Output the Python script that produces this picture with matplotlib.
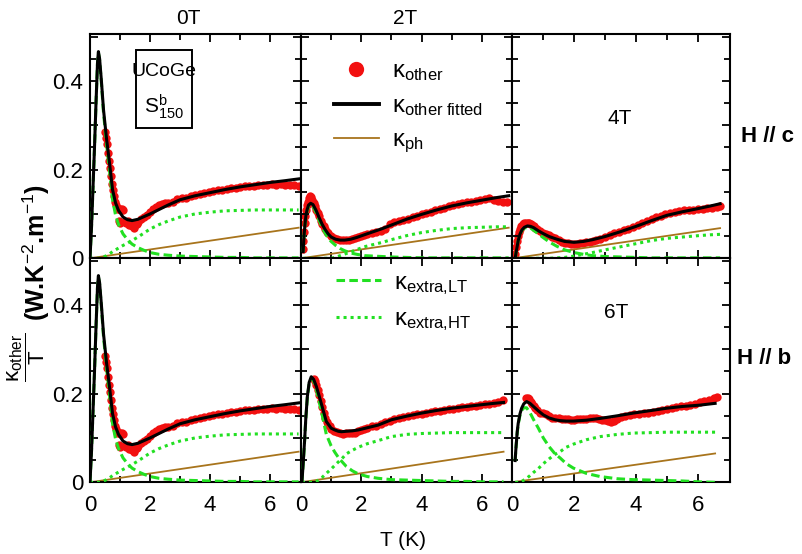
import matplotlib
matplotlib.use("Agg")
import matplotlib.pyplot as plt
from matplotlib.lines import Line2D
from matplotlib.patches import Rectangle

plt.rcParams["font.family"] = ["Liberation Sans", "DejaVu Sans"]
plt.rcParams["mathtext.fontset"] = "custom"
plt.rcParams["mathtext.rm"] = "Liberation Sans"
plt.rcParams["mathtext.it"] = "Liberation Sans:italic"
plt.rcParams["mathtext.bf"] = "Liberation Sans:bold"

RED = "#f21010"
GREEN = "#22e022"
BROWN = "#a8741c"
DASH = (0, (2.8, 1.4))
DOT = (0, (1.0, 1.3))

# ---- 0T (same data in both rows) ----
T_0 = [0, 0.05, 0.1, 0.15, 0.2, 0.25, 0.28, 0.32, 0.38, 0.45, 0.55, 0.65, 0.75, 0.85, 0.95,
       1.1, 1.25, 1.4, 1.6, 1.8, 2.0, 2.3, 2.6, 3.0, 3.5, 4.0, 4.5, 5.0, 5.5, 6.0, 6.5, 6.95]
fit_0 = [0, 0.07, 0.16, 0.25, 0.35, 0.44, 0.466, 0.45, 0.40, 0.335, 0.27, 0.215, 0.155, 0.125,
         0.108, 0.093, 0.087, 0.085, 0.088, 0.094, 0.10, 0.11, 0.12, 0.132, 0.141, 0.148, 0.155,
         0.161, 0.166, 0.171, 0.175, 0.179]
lt_0 = [0, 0.07, 0.16, 0.25, 0.35, 0.44, 0.463, 0.447, 0.395, 0.328, 0.258, 0.198, 0.133, 0.098,
        0.076, 0.055, 0.042, 0.032, 0.024, 0.018, 0.013, 0.009, 0.007, 0.005, 0.004, 0.003, 0.002,
        0.002, 0.001, 0.001, 0.001, 0.001]
ht_0 = [0, 0, 0, 0, 0, 0, 0, 0, 0.001, 0.003, 0.006, 0.010, 0.015, 0.019, 0.023, 0.029, 0.034,
        0.040, 0.048, 0.057, 0.066, 0.076, 0.084, 0.093, 0.100, 0.104, 0.107, 0.108, 0.109, 0.109,
        0.109, 0.109]
ph_T_0 = [0, 6.95]
ph_0 = [0, 0.069]
data_T_0 = [0.5, 0.53, 0.56, 0.6, 0.63, 0.66, 0.7, 0.73, 0.76, 0.8, 0.83, 0.86, 0.9, 0.93, 0.96,
            1.0, 1.03, 1.06, 1.1, 0.95, 1.0, 1.15, 1.2, 1.25, 1.3, 1.35, 1.4, 1.45, 1.5, 1.55, 1.6,
            1.7, 1.8, 1.9, 2.0, 2.1, 2.2, 2.3, 2.4, 2.5, 2.6, 2.75, 2.9, 3.05, 3.2, 3.35, 3.5, 3.65,
            3.8, 3.95, 4.1, 4.25, 4.4, 4.55, 4.7, 4.85, 5.0, 5.15, 5.3, 5.45, 5.6, 5.75, 5.9, 6.05,
            6.2, 6.35, 6.5, 6.65, 6.8, 6.95]
data_0 = [0.285, 0.272, 0.258, 0.238, 0.22, 0.203, 0.185, 0.168, 0.153, 0.14, 0.128, 0.12, 0.113,
          0.112, 0.111, 0.112, 0.11, 0.111, 0.108, 0.085, 0.08, 0.082, 0.079, 0.083, 0.076, 0.08,
          0.072, 0.069, 0.074, 0.078, 0.082, 0.088, 0.093, 0.098, 0.104, 0.112, 0.116, 0.12, 0.122,
          0.124, 0.125, 0.128, 0.133, 0.136, 0.137, 0.14, 0.143, 0.146, 0.148, 0.15, 0.152, 0.153,
          0.155, 0.156, 0.158, 0.159, 0.16, 0.162, 0.163, 0.164, 0.165, 0.166, 0.165, 0.167, 0.166,
          0.167, 0.166, 0.165, 0.165, 0.164]

# ---- 2T, H // c ----
T_2c = [0.07, 0.1, 0.13, 0.16, 0.2, 0.25, 0.32, 0.4, 0.5, 0.6, 0.7, 0.8, 0.9, 1.0, 1.15, 1.3,
        1.45, 1.65, 1.85, 2.1, 2.4, 2.7, 3.0, 3.5, 4.0, 4.5, 5.0, 5.5, 6.0, 6.5, 6.89]
fit_2c = [0.015, 0.05, 0.075, 0.095, 0.109, 0.12, 0.124, 0.121, 0.108, 0.092, 0.077, 0.065, 0.055,
          0.048, 0.043, 0.041, 0.041, 0.043, 0.047, 0.053, 0.06, 0.067, 0.075, 0.088, 0.099,
          0.109, 0.118, 0.125, 0.131, 0.137, 0.141]
lt_2c = [0.014, 0.049, 0.074, 0.093, 0.107, 0.117, 0.121, 0.117, 0.103, 0.086, 0.07, 0.057, 0.046,
         0.038, 0.029, 0.022, 0.017, 0.012, 0.009, 0.006, 0.005, 0.004, 0.003, 0.002, 0.001, 0.001,
         0.001, 0.001, 0.001, 0.001, 0.001]
ht_2c = [0, 0, 0, 0, 0, 0, 0, 0, 0, 0, 0, 0, 0, 0, 0.0025, 0.006, 0.0095, 0.0145, 0.0195, 0.026,
         0.031, 0.036, 0.042, 0.051, 0.058, 0.063, 0.067, 0.069, 0.07, 0.071, 0.071]
ph_T_2c = [0, 6.89]
ph_2c = [0, 0.069]
data_T_2c = [0.05, 0.08, 0.1, 0.12, 0.14, 0.17, 0.2, 0.23, 0.26, 0.29, 0.32, 0.35, 0.38, 0.42,
             0.45, 0.5, 0.55, 0.6, 0.65, 0.7, 0.75, 0.8, 0.85, 0.9, 1.0, 1.1, 1.2, 1.3, 1.4, 1.5,
             1.6, 1.7, 1.8, 1.9, 2.0, 2.1, 2.2, 2.35, 2.5, 2.65, 2.8, 2.95, 3.1, 3.25, 3.4, 3.55,
             3.7, 3.85, 4.0, 4.15, 4.3, 4.45, 4.6, 4.75, 4.9, 5.05, 5.2, 5.35, 5.5, 5.65, 5.8,
             5.95, 6.1, 6.25, 6.4, 6.55, 6.7, 6.85]
data_2c = [0.02, 0.04, 0.06, 0.08, 0.095, 0.11, 0.12, 0.128, 0.135, 0.14, 0.138, 0.132, 0.13,
           0.125, 0.118, 0.11, 0.102, 0.095, 0.085, 0.078, 0.072, 0.066, 0.06, 0.056, 0.05, 0.046,
           0.043, 0.042, 0.041, 0.041, 0.042, 0.044, 0.046, 0.048, 0.05, 0.052, 0.055, 0.057, 0.06,
           0.062, 0.066, 0.078, 0.081, 0.083, 0.086, 0.089, 0.092, 0.095, 0.099, 0.102, 0.105,
           0.108, 0.111, 0.114, 0.117, 0.12, 0.122, 0.124, 0.126, 0.128, 0.13, 0.132, 0.134,
           0.136, 0.132, 0.129, 0.128, 0.128]

# ---- 4T, H // c ----
T_4 = [0.1, 0.15, 0.2, 0.26, 0.32, 0.4, 0.5, 0.6, 0.7, 0.85, 1.0, 1.2, 1.45, 1.7, 2.0, 2.3, 2.6,
       3.0, 3.5, 4.0, 4.5, 5.0, 5.5, 6.0, 6.4, 6.71]
fit_4 = [0.0, 0.02, 0.04, 0.055, 0.064, 0.07, 0.073, 0.072, 0.069, 0.062, 0.056, 0.049, 0.043,
         0.038, 0.036, 0.038, 0.042, 0.049, 0.06, 0.072, 0.085, 0.097, 0.105, 0.112, 0.118, 0.123]
lt_4 = [0.0, 0.02, 0.04, 0.054, 0.063, 0.068, 0.07, 0.068, 0.063, 0.055, 0.047, 0.037, 0.027,
        0.019, 0.013, 0.009, 0.006, 0.004, 0.003, 0.002, 0.001, 0.001, 0.001, 0.001, 0.001, 0.001]
ht_4 = [0, 0, 0, 0, 0, 0, 0, 0, 0, 0, 0, 0, 0.001, 0.002, 0.005, 0.009, 0.013, 0.019, 0.026,
        0.033, 0.04, 0.045, 0.048, 0.051, 0.053, 0.054]
ph_T_4 = [0.04, 6.71]
ph_4 = [0, 0.068]
data_T_4 = [0.08, 0.1, 0.12, 0.15, 0.18, 0.22, 0.26, 0.3, 0.35, 0.4, 0.45, 0.5, 0.55, 0.6, 0.65,
            0.7, 0.75, 0.8, 0.9, 1.0, 1.1, 1.2, 1.3, 1.4, 1.5, 1.6, 1.7, 1.8, 1.9, 2.0, 2.1, 2.2,
            2.3, 2.4, 2.5, 2.6, 2.7, 2.85, 3.0, 3.15, 3.3, 3.45, 3.6, 3.75, 3.9, 4.05, 4.2, 4.35,
            4.5, 4.65, 4.8, 4.95, 5.1, 5.25, 5.4, 5.55, 5.7, 5.85, 6.0, 6.15, 6.3, 6.45, 6.6, 6.71]
data_4 = [0.0, 0.01, 0.025, 0.04, 0.05, 0.06, 0.067, 0.073, 0.077, 0.079, 0.08, 0.08, 0.079,
          0.077, 0.075, 0.072, 0.069, 0.066, 0.061, 0.058, 0.055, 0.052, 0.048, 0.045, 0.041,
          0.037, 0.035, 0.034, 0.033, 0.033, 0.033, 0.034, 0.035, 0.036, 0.037, 0.039, 0.041,
          0.044, 0.047, 0.053, 0.056, 0.059, 0.063, 0.067, 0.071, 0.076, 0.08, 0.085, 0.089,
          0.093, 0.096, 0.099, 0.102, 0.104, 0.106, 0.108, 0.109, 0.11, 0.111, 0.112, 0.113,
          0.114, 0.116, 0.118]

# ---- 2T, H // b ----
T_2b = [0.03, 0.07, 0.12, 0.16, 0.21, 0.27, 0.34, 0.42, 0.51, 0.6, 0.7, 0.84, 1.0, 1.12, 1.24,
        1.34, 1.5, 1.7, 1.9, 2.2, 2.56, 3.0, 3.5, 4.0, 4.5, 5.0, 5.5, 6.0, 6.4, 6.72]
fit_2b = [0, 0.04, 0.095, 0.145, 0.193, 0.225, 0.238, 0.232, 0.216, 0.195, 0.171, 0.137, 0.122,
          0.118, 0.115, 0.114, 0.115, 0.116, 0.118, 0.123, 0.129, 0.141, 0.149, 0.156, 0.162,
          0.167, 0.171, 0.175, 0.178, 0.18]
lt_2b = [0, 0.039, 0.094, 0.143, 0.191, 0.222, 0.234, 0.228, 0.209, 0.183, 0.153, 0.108, 0.082,
         0.068, 0.056, 0.048, 0.036, 0.026, 0.019, 0.013, 0.009, 0.006, 0.005, 0.004, 0.003,
         0.002, 0.002, 0.001, 0.001, 0.001]
ht_2b = [0, 0, 0, 0, 0, 0, 0, 0, 0.002, 0.006, 0.011, 0.02, 0.03, 0.038, 0.046, 0.052, 0.064,
         0.072, 0.079, 0.087, 0.094, 0.103, 0.108, 0.11, 0.111, 0.112, 0.112, 0.112, 0.112, 0.112]
ph_T_2b = [0, 6.72]
ph_2b = [0, 0.069]
data_T_2b = [0.42, 0.46, 0.5, 0.55, 0.6, 0.65, 0.7, 0.75, 0.8, 0.85, 0.9, 0.95, 1.0, 1.1, 1.2,
             1.3, 1.4, 1.5, 1.6, 1.7, 1.8, 1.9, 2.0, 2.1, 2.2, 2.35, 2.5, 2.65, 2.8, 2.95, 3.1,
             3.25, 3.4, 3.55, 3.7, 3.85, 4.0, 4.15, 4.3, 4.45, 4.6, 4.75, 4.9, 5.05, 5.2, 5.35,
             5.5, 5.65, 5.8, 5.95, 6.1, 6.25, 6.4, 6.55, 6.7]
data_2b = [0.232, 0.228, 0.22, 0.208, 0.196, 0.183, 0.17, 0.157, 0.146, 0.137, 0.13, 0.126,
           0.121, 0.116, 0.113, 0.112, 0.11, 0.111, 0.112, 0.111, 0.112, 0.115, 0.118, 0.121,
           0.123, 0.126, 0.128, 0.131, 0.135, 0.138, 0.142, 0.145, 0.147, 0.149, 0.151, 0.153,
           0.155, 0.157, 0.158, 0.16, 0.161, 0.163, 0.165, 0.166, 0.168, 0.169, 0.17, 0.172,
           0.173, 0.175, 0.176, 0.177, 0.179, 0.182, 0.186]

# ---- 6T, H // b ----
T_6 = [0.1, 0.13, 0.17, 0.2, 0.26, 0.31, 0.38, 0.47, 0.58, 0.69, 0.85, 1.01, 1.2, 1.39, 1.55,
       1.75, 1.98, 2.4, 2.84, 3.4, 3.91, 4.5, 4.99, 5.5, 6.06, 6.55]
fit_6 = [0.049, 0.08, 0.115, 0.133, 0.155, 0.167, 0.177, 0.182, 0.178, 0.171, 0.161, 0.152,
         0.145, 0.141, 0.139, 0.138, 0.138, 0.14, 0.144, 0.15, 0.156, 0.162, 0.167, 0.171, 0.174,
         0.178]
lt_6 = [0.048, 0.079, 0.113, 0.131, 0.152, 0.162, 0.168, 0.168, 0.157, 0.142, 0.122, 0.1, 0.08,
        0.064, 0.055, 0.042, 0.032, 0.02, 0.013, 0.008, 0.006, 0.005, 0.004, 0.003, 0.001, 0.0]
ht_6 = [0, 0, 0, 0, 0, 0.002, 0.005, 0.009, 0.015, 0.022, 0.031, 0.042, 0.053, 0.063, 0.069,
        0.079, 0.086, 0.096, 0.103, 0.108, 0.111, 0.112, 0.113, 0.113, 0.113, 0.113]
ph_T_6 = [0, 6.55]
ph_6 = [0, 0.065]
data_T_6 = [0.45, 0.5, 0.55, 0.6, 0.65, 0.7, 0.75, 0.8, 0.9, 1.0, 1.1, 1.2, 1.3, 1.4, 1.5, 1.6,
            1.7, 1.8, 1.9, 2.0, 2.1, 2.2, 2.3, 2.4, 2.5, 2.6, 2.7, 2.8, 2.9, 3.0, 3.1, 3.2, 3.3,
            3.4, 3.5, 3.65, 3.8, 3.95, 4.1, 4.25, 4.4, 4.55, 4.7, 4.85, 5.0, 5.15, 5.3, 5.45,
            5.6, 5.75, 5.9, 6.05, 6.2, 6.35, 6.5, 6.6]
data_6 = [0.19, 0.19, 0.187, 0.182, 0.177, 0.172, 0.167, 0.163, 0.157, 0.156, 0.155, 0.15, 0.146,
          0.145, 0.144, 0.143, 0.143, 0.142, 0.141, 0.141, 0.142, 0.142, 0.143, 0.143, 0.144,
          0.145, 0.146, 0.143, 0.141, 0.14, 0.139, 0.137, 0.138, 0.143, 0.147, 0.149, 0.151,
          0.153, 0.155, 0.156, 0.157, 0.159, 0.161, 0.163, 0.165, 0.167, 0.169, 0.171, 0.173,
          0.175, 0.177, 0.18, 0.183, 0.186, 0.19, 0.193]

panels = [
    (0, 0, T_0, fit_0, lt_0, ht_0, ph_T_0, ph_0, data_T_0, data_0),
    (0, 1, T_2c, fit_2c, lt_2c, ht_2c, ph_T_2c, ph_2c, data_T_2c, data_2c),
    (0, 2, T_4, fit_4, lt_4, ht_4, ph_T_4, ph_4, data_T_4, data_4),
    (1, 0, T_0, fit_0, lt_0, ht_0, ph_T_0, ph_0, data_T_0, data_0),
    (1, 1, T_2b, fit_2b, lt_2b, ht_2b, ph_T_2b, ph_2b, data_T_2b, data_2b),
    (1, 2, T_6, fit_6, lt_6, ht_6, ph_T_6, ph_6, data_T_6, data_6),
]

W, H = 802, 554
fig = plt.figure(figsize=(W / 100, H / 100), dpi=100)

col_px = [(90, 301), (301, 512), (512, 730)]
row_px = [(34.3, 258.3), (258.3, 482.3)]
xmax = [7.03, 7.0, 7.03]

axes = {}
for r, c, T, fit, lt, ht, phT, ph, dT, d in panels:
    x0, x1 = col_px[c]
    y0, y1 = row_px[r]
    ax = fig.add_axes([x0 / W, 1 - y1 / H, (x1 - x0) / W, (y1 - y0) / H])
    axes[(r, c)] = ax
    ax.plot(dT, d, "o", color=RED, ms=6, mec="none", zorder=1)
    ax.plot(phT, ph, color=BROWN, lw=1.3, zorder=2)
    ax.plot(T, ht, color=GREEN, lw=2.2, ls=DOT, zorder=3)
    ax.plot(T, lt, color=GREEN, lw=2.2, ls=DASH, zorder=3)
    ax.plot(T, fit, color="black", lw=2.2, zorder=4)

    ax.set_xlim(0, xmax[c])
    ax.set_ylim(0, 0.505)
    ax.set_xticks([0, 2, 4, 6])
    ax.set_xticks([1, 3, 5], minor=True)
    ax.set_yticks([0, 0.1, 0.2, 0.3, 0.4, 0.5])
    ax.set_yticks([0.05, 0.15, 0.25, 0.35, 0.45], minor=True)
    ax.tick_params(which="both", direction="in", top=True, right=True, width=1.3,
                   labelsize=16)
    ax.tick_params(which="major", length=5.5, pad=5)
    ax.tick_params(which="minor", length=4)
    ax.tick_params(axis="x", pad=9)
    for s in ax.spines.values():
        s.set_linewidth(1.5)
    if c == 0:
        ax.set_yticklabels(["0", "", "0.2", "", "0.4", ""])
    else:
        ax.set_yticklabels([])
    if r == 0:
        ax.set_xticklabels([])

# legends
h_data = Line2D([], [], ls="none", marker="o", color=RED, ms=11, mec="none")
h_fit = Line2D([], [], color="black", lw=2.8)
h_ph = Line2D([], [], color=BROWN, lw=1.3)
axes[(0, 1)].legend([h_data, h_fit, h_ph],
                    ["κ$_{\\mathrm{other}}$", "κ$_{\\mathrm{other\\ fitted}}$", "κ$_{\\mathrm{ph}}$"],
                    loc="upper left", bbox_to_anchor=(0.155, 0.885), frameon=False,
                    fontsize=17, handlelength=1.9, handletextpad=0.55, labelspacing=0.5,
                    borderpad=0, borderaxespad=0)
h_lt = Line2D([], [], color=GREEN, lw=2.2, ls=DASH)
h_ht = Line2D([], [], color=GREEN, lw=2.2, ls=DOT)
axes[(1, 1)].legend([h_lt, h_ht],
                    ["κ$_{\\mathrm{extra{,}LT}}$", "κ$_{\\mathrm{extra{,}HT}}$"],
                    loc="upper left", bbox_to_anchor=(0.165, 0.94), frameon=False,
                    fontsize=17, handlelength=1.9, handletextpad=0.55, labelspacing=0.5,
                    borderpad=0, borderaxespad=0)

# sample box
ax00 = axes[(0, 0)]
ax00.add_patch(Rectangle((0.218, 0.582), 0.265, 0.348, transform=ax00.transAxes,
                         fill=False, ec="black", lw=1.4, zorder=5))
ax00.text(0.351, 0.832, "UCoGe", transform=ax00.transAxes, ha="center", va="center",
          fontsize=14)
ax00.text(0.351, 0.675, "S$^{\\mathrm{b}}_{\\mathrm{150}}$", transform=ax00.transAxes,
          ha="center", va="center", fontsize=15)

# titles and field labels
fig.text(188 / W, 1 - 18 / H, "0T", ha="center", va="center", fontsize=15)
fig.text(405 / W, 1 - 18 / H, "2T", ha="center", va="center", fontsize=15)
fig.text(620 / W, 1 - 118 / H, "4T", ha="center", va="center", fontsize=15)
fig.text(616 / W, 1 - 313 / H, "6T", ha="center", va="center", fontsize=15)
fig.text(741 / W, 1 - 137 / H, "H // c", ha="left", va="center", fontsize=16, fontweight="bold")
fig.text(737 / W, 1 - 359 / H, "H // b", ha="left", va="center", fontsize=16, fontweight="bold")
fig.text(403 / W, 1 - 540 / H, "T (K)", ha="center", va="center", fontsize=15)

# y label: fraction + bold units
fig.text(26 / W, 1 - 357 / H, "$\\dfrac{\\mathrm{κ_{other}}}{\\mathrm{T}}$", rotation=90,
         ha="center", va="center", fontsize=16)
fig.text(36 / W, 1 - 252 / H, "(W.K$^{\\mathrm{-2}}$.m$^{\\mathrm{-1}}$)", rotation=90,
         ha="center", va="center", fontsize=18, fontweight="bold")

fig.savefig("out.png", dpi=100)
